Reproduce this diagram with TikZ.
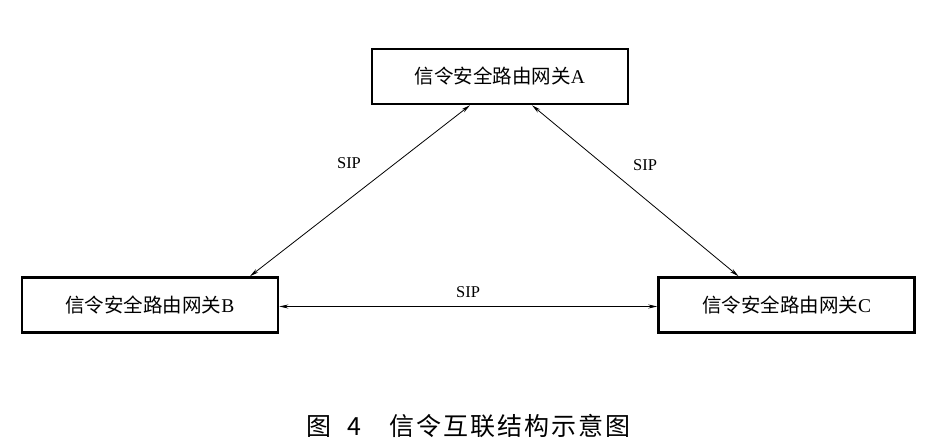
\documentclass[tikz,border=0pt]{standalone}
\usepackage{fontspec}
\setmainfont{Liberation Serif}
\newfontfamily\cjk{Noto Sans CJK SC}
\usetikzlibrary{arrows.meta}
\usetikzlibrary{calc}

\tikzset{
 gate/.style={draw, line width=2.5pt, minimum width=256pt, minimum height=55pt, font=\fontsize{19.5}{19.5}\selectfont},
 sip/.style={arrows={Stealth[length=9pt,width=4pt]-Stealth[length=9pt,width=4pt]}, line width=0.8pt},
}

\begin{document}
\begin{tikzpicture}[x=1pt,y=-1pt]
\useasboundingbox (0,0) rectangle (942,443);

\node[gate] (A) at (500,76.5) {{\cjk 信令安全路由网关}A};
\node[gate] (B) at (150,305) {{\cjk 信令安全路由网关}B};
\node[gate] (C) at (786.5,305) {{\cjk 信令安全路由网关}C};

\draw[sip] ([xshift=-30pt]A.south) -- ([xshift=100pt]B.north);
\draw[sip] ([xshift=32pt]A.south) -- ([xshift=-48pt]C.north);
\draw[sip] ([yshift=-1.5pt]B.east) -- ([yshift=-1.5pt]C.west);

\node[font=\fontsize{16.5}{16.5}\selectfont] (sipab) at (349,163) {SIP};
\node[font=\fontsize{16.5}{16.5}\selectfont] (sipac) at (645,165) {SIP};
\node[font=\fontsize{16.5}{16.5}\selectfont] (sipbc) at (468,292) {SIP};

\node[anchor=west, inner sep=0pt, font=\cjk\fontsize{25}{25}\selectfont\addfontfeature{LetterSpace=8}] (cap) at (306,426) {图\hspace{16pt}4\hspace{28pt}信令互联结构示意图};
\end{tikzpicture}
\end{document}
